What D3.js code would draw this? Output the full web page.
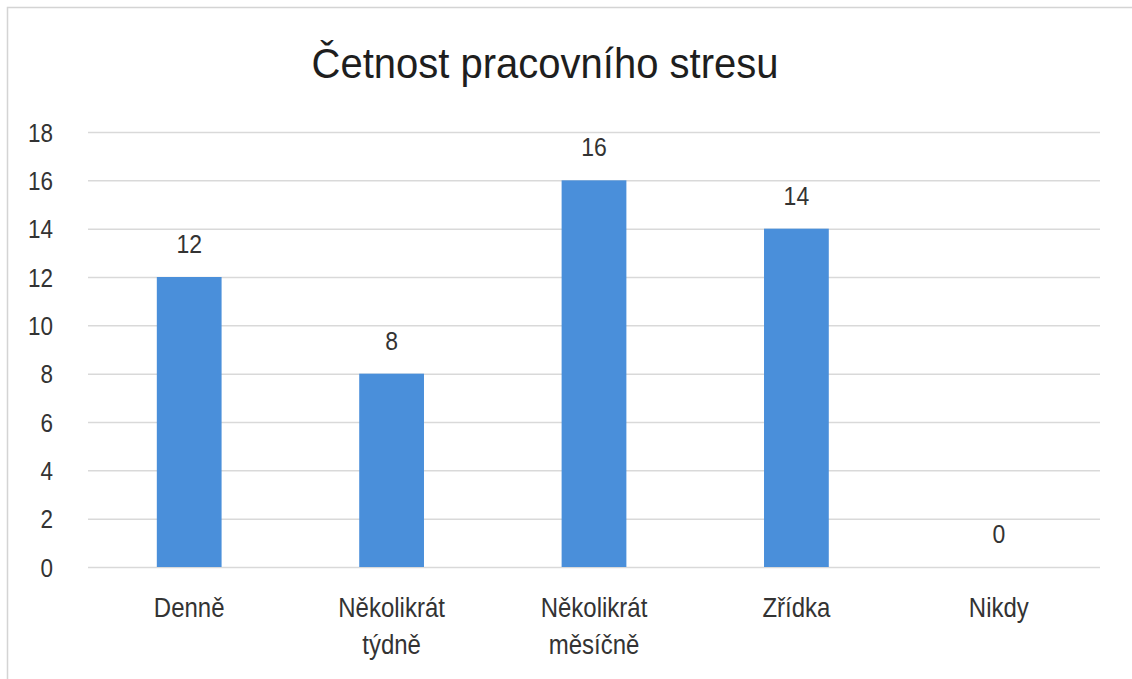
<!DOCTYPE html>
<html>
<head>
<meta charset="utf-8">
<script src="https://cdn.jsdelivr.net/npm/d3@7"></script>
<style>
  html, body { margin: 0; padding: 0; background: #fff; }
  svg { display: block; font-family: "Liberation Sans", Arial, sans-serif; }
</style>
</head>
<body>
<script>
const title = "Četnost pracovního stresu";
const categories = [["Denně"], ["Několikrát", "týdně"], ["Několikrát", "měsíčně"], ["Zřídka"], ["Nikdy"]];
const values = [12, 8, 16, 14, 0];
const yTicks = [0, 2, 4, 6, 8, 10, 12, 14, 16, 18];

const W = 1132, H = 679;
const svg = d3.select("body").append("svg").attr("width", W).attr("height", H);
svg.append("rect").attr("width", W).attr("height", H).attr("fill", "#fff");

// frame
svg.append("path").attr("d", `M7.5,${H} L7.5,7.5 L${W},7.5`)
  .attr("fill", "none").attr("stroke", "#d4d4d4").attr("stroke-width", 1.5);

const pLeft = 88, pRight = 1100, pTop = 132, pBottom = 567;
const keys = categories.map(c => c.join(" "));
const x = d3.scaleBand().domain(keys).range([pLeft, pRight]).paddingInner(0.68).paddingOuter(0.34);
const y = d3.scaleLinear().domain([0, 18]).range([pBottom, pTop]);
const SY = 1.12;

// title
svg.append("text").attr("transform", `translate(545,78) scale(1,1.08)`).attr("text-anchor", "middle")
  .attr("font-size", 40).attr("fill", "#1e1e1e").text(title);

// gridlines + y tick labels
const yAxis = d3.axisLeft(y).tickValues(yTicks).tickSize(-(pRight - pLeft)).tickPadding(35).tickFormat(d3.format("d"));
const gy = svg.append("g").attr("transform", `translate(${pLeft},0)`).call(yAxis);
gy.select(".domain").remove();
gy.selectAll(".tick line").attr("stroke", "#d9d9d9").attr("stroke-width", 1.5);
gy.selectAll(".tick text").attr("font-size", 22.5).attr("fill", "#333").attr("font-family", "Liberation Sans, Arial, sans-serif")
  .attr("dy", "0.36em").attr("transform", `scale(1,${SY})`);

// bars
svg.append("g").selectAll("rect").data(values).join("rect")
  .attr("x", (d, i) => x(keys[i]))
  .attr("y", d => y(d))
  .attr("width", x.bandwidth())
  .attr("height", d => y(0) - y(d))
  .attr("fill", "#4a8fda");

// data labels
svg.append("g").selectAll("text").data(values).join("text")
  .attr("transform", (d, i) => `translate(${x(keys[i]) + x.bandwidth() / 2},${y(d) - 24}) scale(1,${SY})`)
  .attr("text-anchor", "middle").attr("font-size", 23).attr("fill", "#333")
  .text(d => d);

// category labels
const xAxis = d3.axisBottom(x).tickSize(0).tickFormat(() => "");
const gx = svg.append("g").attr("transform", `translate(0,${pBottom})`).call(xAxis);
gx.select(".domain").remove();
gx.selectAll(".tick").each(function(k, i) {
  const g = d3.select(this);
  categories[i].forEach((line, j) => {
    g.append("text").attr("text-anchor", "middle")
      .attr("transform", `translate(0,${50 + j * 37}) scale(1,${SY})`)
      .attr("font-size", 24).attr("fill", "#333").attr("font-family", "Liberation Sans, Arial, sans-serif")
      .text(line);
  });
});
</script>
</body>
</html>
